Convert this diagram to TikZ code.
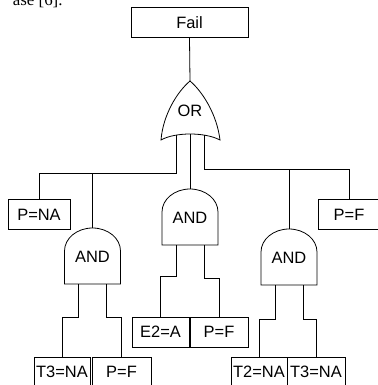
\documentclass[tikz,border=0pt]{standalone}
\usepackage{fontspec}
\setmainfont{Liberation Sans}
\newfontfamily\capfont{Liberation Serif}
\begin{document}
\begin{tikzpicture}[x=1bp,y=-1bp, line width=0.8bp,
  box/.style={draw, inner sep=0pt, minimum height=30bp, font=\fontsize{16.5}{16.5}\selectfont},
  gatelabel/.style={font=\fontsize{16.5}{16.5}\selectfont, inner sep=0pt},
  andgate/.pic={
    \draw (-28,23) .. controls (-28,10.3) and (-15.5,0) .. (0,0)
          .. controls (15.5,0) and (28,10.3) .. (28,23) -- (28,56) -- (-28,56) -- cycle;
    \coordinate (-top) at (0,0);
    \coordinate (-l) at (-14,56);
    \coordinate (-r) at (14,56);
    \node[gatelabel] (-lab) at (0,29) {AND};
  }
]
\useasboundingbox (0,0) rectangle (378,385);
\clip (0,0) rectangle (378,385);

% caption fragment (cut at the top edge, as in the reference)
\node[font=\capfont\fontsize{17}{17}\selectfont, anchor=base east, inner sep=0pt] (cap) at (63,5.5) {ase [6].};

% top event
\node[box, minimum width=117bp] (fail) at (189.5,22.5) {Fail};

% OR gate
\draw (190,81) .. controls (177,92) and (163,115) .. (161,140)
      .. controls (175,132) and (205,132) .. (220,140)
      .. controls (217,115) and (203,92) .. (190,81) -- cycle;
\coordinate (ortop) at (190,81);
\coordinate (orl) at (176,134.8);
\coordinate (orc) at (190,134);
\coordinate (orr) at (204,134.8);
\node[gatelabel] (orlab) at (190,111) {OR};

% junction levels
\coordinate (jl) at (0,173);
\coordinate (jr) at (0,169);

% first level
\node[box, minimum width=62bp] (pna) at (39,214.5) {P=NA};
\node[box, minimum width=62bp] (pf1) at (349,214.5) {P=F};
\pic (land) at (92.5,228) {andgate};
\pic (cand) at (190,189) {andgate};
\pic (rand) at (289,229) {andgate};

% second level boxes
\node[box, minimum width=57bp] (e2a) at (160.5,332) {E2=A};
\node[box, minimum width=58bp] (pf2) at (219,332) {P=F};
\node[box, minimum width=56bp] (t3a) at (62,372) {T3=NA};
\node[box, minimum width=59bp] (pf3) at (121.5,372) {P=F};
\node[box, minimum width=56bp] (t2b) at (259,372) {T2=NA};
\node[box, minimum width=58bp] (t3b) at (316,372) {T3=NA};

% connectors
\draw (fail.south) -- (ortop);
\draw (orl) -- (orl |- jl) -| (pna.north);
\draw (land-top |- jl) -- (land-top);
\draw (orc) -- (cand-top);
\draw (orr) -- (orr |- jr) -| (pf1.north);
\draw (rand-top |- jr) -- (rand-top);

\coordinate (jc1) at (0,276);
\coordinate (jc2) at (0,278);
\draw (cand-l) -- (cand-l |- jc1) -| (e2a.north);
\draw (cand-r) -- (cand-r |- jc2) -| (pf2.north);

\coordinate (jlb) at (0,317);
\draw (land-l) -- (land-l |- jlb) -| (t3a.north);
\draw (land-r) -- (land-r |- jlb) -| (pf3.north);

\coordinate (jrb) at (0,319);
\draw (rand-l) -- (rand-l |- jrb) -| (t2b.north);
\draw (rand-r) -- (rand-r |- jrb) -| (t3b.north);
\end{tikzpicture}
\end{document}
